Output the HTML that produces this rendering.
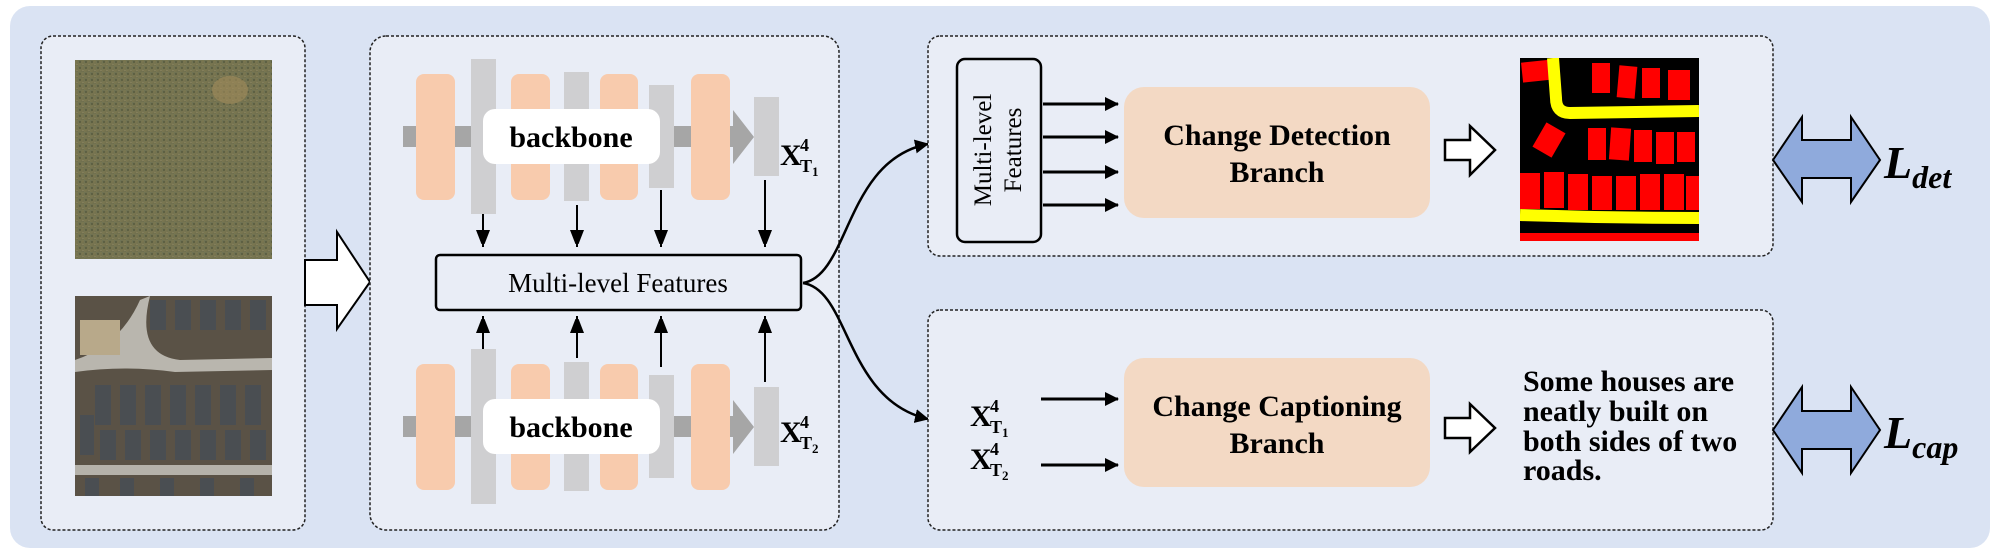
<!DOCTYPE html>
<html><head><meta charset="utf-8"><style>
html,body{margin:0;padding:0;background:#fff;}
svg{display:block;font-family:"Liberation Serif",serif;}
</style></head><body>
<svg width="1999" height="555" viewBox="0 0 1999 555" xmlns="http://www.w3.org/2000/svg">
<defs>
<marker id="ah" markerWidth="14" markerHeight="18" refX="17" refY="7" orient="auto" markerUnits="userSpaceOnUse"><path d="M0,0 L18,7 L0,14 z" fill="#000"/></marker>
<marker id="ah2" markerWidth="14" markerHeight="14" refX="13" refY="7" orient="auto" markerUnits="userSpaceOnUse"><path d="M0,0 L14,7 L0,14 z" fill="#000"/></marker>
<linearGradient id="g1" x1="0" y1="0" x2="1" y2="1"><stop offset="0" stop-color="#6e7356"/><stop offset="0.5" stop-color="#7a7650"/><stop offset="1" stop-color="#66694c"/></linearGradient>
<pattern id="tex" width="6" height="6" patternUnits="userSpaceOnUse"><rect width="6" height="6" fill="url(#g1)"/><circle cx="2" cy="2" r="1.2" fill="#4d5238" opacity=".6"/><circle cx="5" cy="4.5" r="0.9" fill="#9a9068" opacity=".6"/></pattern>
</defs>
<rect x="10" y="6" width="1980" height="542" rx="20" fill="#dae3f3"/>
<rect x="41" y="36" width="264" height="494" rx="12" fill="#e9edf6" stroke="#222" stroke-width="1.5" stroke-dasharray="3,2"/>
<rect x="75" y="60" width="197" height="199" fill="url(#tex)"/>
<ellipse cx="230" cy="90" rx="18" ry="14" fill="#a08a5a" opacity=".6"/>
<g>
<rect x="75" y="296" width="197" height="200" fill="#5a5246"/>
<path d="M75,360 Q120,345 140,300 L150,296 Q135,355 180,360 L272,358 L272,370 L175,372 Q125,365 75,372 z" fill="#b9b6ae"/>
<rect x="75" y="465" width="197" height="10" fill="#b5b2aa"/>
<g fill="#4a4e52"><rect x="150" y="300" width="16" height="30"/><rect x="175" y="300" width="16" height="30"/><rect x="200" y="300" width="16" height="30"/><rect x="225" y="300" width="16" height="30"/><rect x="250" y="300" width="16" height="30"/>
<rect x="95" y="385" width="16" height="40"/><rect x="120" y="385" width="16" height="40"/><rect x="145" y="385" width="16" height="40"/><rect x="170" y="385" width="16" height="40"/><rect x="195" y="385" width="16" height="40"/><rect x="220" y="385" width="16" height="40"/><rect x="245" y="385" width="16" height="40"/>
<rect x="80" y="415" width="14" height="40"/><rect x="100" y="430" width="16" height="30"/><rect x="125" y="430" width="16" height="30"/><rect x="150" y="430" width="16" height="30"/><rect x="175" y="430" width="16" height="30"/><rect x="200" y="430" width="16" height="30"/><rect x="225" y="430" width="16" height="30"/><rect x="250" y="430" width="16" height="30"/>
<rect x="85" y="478" width="14" height="18"/><rect x="120" y="478" width="14" height="18"/><rect x="160" y="478" width="14" height="18"/><rect x="200" y="478" width="14" height="18"/><rect x="240" y="478" width="14" height="18"/></g>
<rect x="80" y="320" width="40" height="35" fill="#b8a98a"/>
</g>
<path d="M305,260 L337,260 L337,232 L370,282 L337,329 L337,305 L305,305 z" fill="#fff" stroke="#000" stroke-width="2"/>
<rect x="370" y="36" width="469" height="494" rx="16" fill="#e9edf6" stroke="#222" stroke-width="1.5" stroke-dasharray="3,2"/>
<g id="bb">
<rect x="403" y="126" width="330" height="21" fill="#a6a6a6"/>
<path d="M733,110 L754,137 L733,164 z" fill="#a6a6a6"/>
<rect x="416" y="74" width="39" height="126" rx="8" fill="#f8cbad"/>
<rect x="511" y="74" width="39" height="126" rx="8" fill="#f8cbad"/>
<rect x="600" y="74" width="38" height="126" rx="8" fill="#f8cbad"/>
<rect x="691" y="74" width="39" height="126" rx="8" fill="#f8cbad"/>
<rect x="471" y="59" width="25" height="155" fill="#cfcfd1"/>
<rect x="564" y="72" width="25" height="129" fill="#cfcfd1"/>
<rect x="649" y="85" width="25" height="103" fill="#cfcfd1"/>
<rect x="754" y="97" width="25" height="79" fill="#cfcfd1"/>
<rect x="483" y="109" width="177" height="55" rx="12" fill="#fff"/>
<text x="571" y="147" font-size="30" font-weight="bold" text-anchor="middle">backbone</text>
</g>
<text x="780" y="165" font-size="30" font-weight="bold">X</text><text x="800" y="151" font-size="18" font-weight="bold">4</text><text x="800" y="172" font-size="18" font-weight="bold">T<tspan font-size="13" dy="4">1</tspan></text>
<use href="#bb" transform="translate(0,290)"/>
<text x="780" y="442" font-size="30" font-weight="bold">X</text><text x="800" y="428" font-size="18" font-weight="bold">4</text><text x="800" y="449" font-size="18" font-weight="bold">T<tspan font-size="13" dy="4">2</tspan></text>
<g stroke="#000" stroke-width="2" fill="none" marker-end="url(#ah)">
<line x1="483" y1="214" x2="483" y2="247"/><line x1="577" y1="205" x2="577" y2="247"/><line x1="661" y1="190" x2="661" y2="247"/><line x1="765" y1="180" x2="765" y2="247"/>
<line x1="483" y1="349" x2="483" y2="316"/><line x1="577" y1="358" x2="577" y2="316"/><line x1="661" y1="367" x2="661" y2="316"/><line x1="765" y1="382" x2="765" y2="316"/>
</g>
<rect x="436" y="255" width="365" height="55" rx="4" fill="#e9edf6" stroke="#000" stroke-width="2.5"/>
<text x="618" y="292" font-size="27" text-anchor="middle">Multi-level Features</text>
<g stroke="#000" stroke-width="2.5" fill="none" marker-end="url(#ah2)">
<path d="M803,283 C850,275 845,160 928,144"/>
<path d="M803,283 C850,290 845,400 928,419"/>
</g>
<rect x="928" y="36" width="845" height="220" rx="12" fill="#e9edf6" stroke="#222" stroke-width="1.5" stroke-dasharray="3,2"/>
<rect x="957" y="59" width="84" height="183" rx="8" fill="#e9edf6" stroke="#000" stroke-width="2.5"/>
<text transform="translate(991,150) rotate(-90)" font-size="25" text-anchor="middle">Multi-level</text>
<text transform="translate(1021,150) rotate(-90)" font-size="25" text-anchor="middle">Features</text>
<g stroke="#000" stroke-width="3" marker-end="url(#ah2)">
<line x1="1043" y1="104" x2="1118" y2="104"/><line x1="1043" y1="137" x2="1118" y2="137"/><line x1="1043" y1="172" x2="1118" y2="172"/><line x1="1043" y1="205" x2="1118" y2="205"/>
</g>
<rect x="1124" y="87" width="306" height="131" rx="20" fill="#f3d9c4"/>
<text x="1277" y="145" font-size="30" font-weight="bold" text-anchor="middle">Change Detection</text>
<text x="1277" y="182" font-size="30" font-weight="bold" text-anchor="middle">Branch</text>
<path d="M1445,140 L1470,140 L1470,126 L1495,150 L1470,175 L1470,160 L1445,160 z" fill="#fff" stroke="#000" stroke-width="2.5"/>
<svg x="1520" y="58" width="179" height="183" viewBox="0 0 179 183">
<rect width="179" height="183" fill="#000"/>
<g fill="#f00">
<rect x="2" y="3" width="32" height="20" transform="rotate(-6 18 13)"/>
<rect x="72" y="5" width="18" height="30"/><rect x="98" y="8" width="18" height="32" transform="rotate(5 107 24)"/><rect x="122" y="10" width="18" height="30"/><rect x="148" y="12" width="22" height="30"/>
<rect x="18" y="68" width="22" height="28" transform="rotate(30 29 82)"/>
<rect x="68" y="70" width="18" height="32"/><rect x="90" y="70" width="20" height="32" transform="rotate(4 100 86)"/><rect x="114" y="72" width="18" height="32"/><rect x="136" y="74" width="18" height="32"/><rect x="157" y="74" width="18" height="30"/>
<rect x="0" y="115" width="20" height="36"/><rect x="24" y="114" width="20" height="36"/><rect x="48" y="116" width="20" height="36"/><rect x="72" y="118" width="20" height="34"/><rect x="96" y="118" width="20" height="34"/><rect x="120" y="116" width="20" height="36"/><rect x="144" y="116" width="20" height="36"/><rect x="166" y="118" width="13" height="34"/>
<rect x="0" y="175" width="179" height="8"/>
</g>
<path d="M33,0 L36,40 Q36,55 50,55 L179,53" stroke="#ff0" stroke-width="12" fill="none"/>
<path d="M0,157 Q90,160 179,160" stroke="#ff0" stroke-width="12" fill="none"/>
</svg>
<path d="M1773,160 L1802,117 L1802,140 L1851,140 L1851,117 L1880,160 L1851,202 L1851,178 L1802,178 L1802,202 z" fill="#8faadc" stroke="#000" stroke-width="2"/>
<text x="1884" y="178" font-size="46" font-weight="bold" font-style="italic">L<tspan font-size="32" dy="10">det</tspan></text>
<rect x="928" y="310" width="845" height="220" rx="12" fill="#e9edf6" stroke="#222" stroke-width="1.5" stroke-dasharray="3,2"/>
<text x="970" y="426" font-size="30" font-weight="bold">X</text><text x="990" y="412" font-size="18" font-weight="bold">4</text><text x="990" y="433" font-size="18" font-weight="bold">T<tspan font-size="13" dy="4">1</tspan></text>
<text x="970" y="469" font-size="30" font-weight="bold">X</text><text x="990" y="455" font-size="18" font-weight="bold">4</text><text x="990" y="476" font-size="18" font-weight="bold">T<tspan font-size="13" dy="4">2</tspan></text>
<g stroke="#000" stroke-width="3" marker-end="url(#ah2)">
<line x1="1041" y1="399" x2="1118" y2="399"/><line x1="1041" y1="465" x2="1118" y2="465"/>
</g>
<rect x="1124" y="358" width="306" height="129" rx="20" fill="#f3d9c4"/>
<text x="1277" y="416" font-size="30" font-weight="bold" text-anchor="middle">Change Captioning</text>
<text x="1277" y="453" font-size="30" font-weight="bold" text-anchor="middle">Branch</text>
<path d="M1445,418 L1470,418 L1470,404 L1495,428 L1470,452 L1470,438 L1445,438 z" fill="#fff" stroke="#000" stroke-width="2.5"/>
<g font-size="30" font-weight="bold">
<text x="1523" y="391">Some houses are</text>
<text x="1523" y="421">neatly built on</text>
<text x="1523" y="451">both sides of two</text>
<text x="1523" y="480">roads.</text>
</g>
<path d="M1773,430 L1802,387 L1802,411 L1851,411 L1851,387 L1880,430 L1851,473 L1851,449 L1802,449 L1802,473 z" fill="#8faadc" stroke="#000" stroke-width="2"/>
<text x="1884" y="448" font-size="46" font-weight="bold" font-style="italic">L<tspan font-size="32" dy="10">cap</tspan></text>
</svg>
</body></html>
